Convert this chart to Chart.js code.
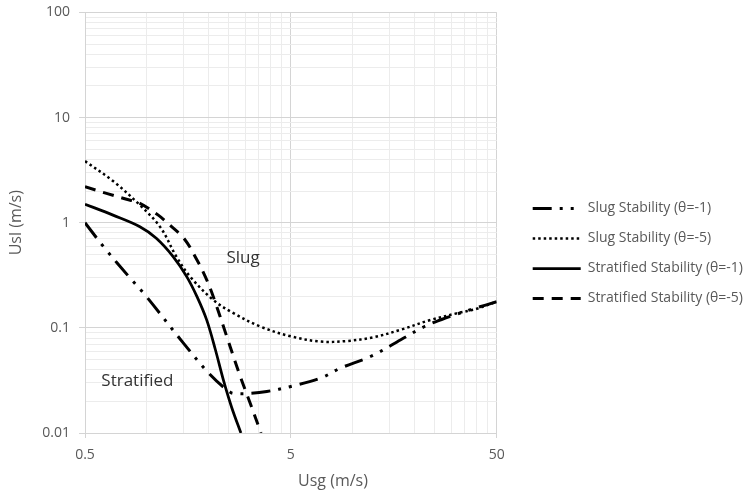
<!DOCTYPE html>
<html>
<head>
<meta charset="utf-8">
<script src="https://cdn.jsdelivr.net/npm/chart.js"></script>
<style>
html,body{margin:0;padding:0;background:#fff;}
#wrap{width:746px;height:493px;position:relative;}
</style>
</head>
<body>
<div id="wrap"><canvas id="chart"></canvas></div>
<script>
// series (Usg, Usl in m/s)
const slug1Usg = [0.5, 0.62, 0.83, 0.98, 1.5, 2.03, 2.54, 2.74, 3.2, 3.82, 5, 7, 8.7, 12.2, 17.1, 22.3, 27, 32.3, 39, 50];
const slug1Usl = [1.0, 0.58, 0.296, 0.205, 0.072, 0.0358, 0.0244, 0.0237, 0.0238, 0.0248, 0.0277, 0.0334, 0.0414, 0.0534, 0.077, 0.103, 0.12, 0.136, 0.153, 0.177];

const slug5Usg = [0.5, 0.684, 0.924, 1.157, 1.39, 1.62, 2.1, 2.63, 3.55, 5, 7, 9.4, 12.6, 17.1, 23.9, 32.3, 40, 50];
const slug5Usl = [3.85, 2.49, 1.47, 0.916, 0.476, 0.307, 0.184, 0.138, 0.103, 0.083, 0.074, 0.075, 0.0814, 0.096, 0.119, 0.138, 0.152, 0.178];

const strat1Usg = [0.5, 0.684, 0.924, 1.11, 1.34, 1.56, 1.75, 1.95, 2.15, 2.35, 2.58, 2.86];
const strat1Usl = [1.5, 1.18, 0.916, 0.711, 0.476, 0.307, 0.198, 0.119, 0.0619, 0.032, 0.0175, 0.01];

const strat5Usg = [0.5, 0.636, 0.796, 0.924, 1.135, 1.29, 1.52, 1.75, 1.92, 2.1, 2.44, 2.84, 3.17, 3.58];
const strat5Usl = [2.2, 1.9, 1.67, 1.53, 1.18, 0.95, 0.70, 0.442, 0.307, 0.198, 0.083, 0.0344, 0.0193, 0.01];

const seriesNames = ["Slug Stability (θ=-1)", "Slug Stability (θ=-5)", "Stratified Stability (θ=-1)", "Stratified Stability (θ=-5)"];

const xTickValues = [0.5, 5, 50];
const xTickLabels = ["0.5", "5", "50"];
const yTickValues = [0.01, 0.1, 1, 10, 100];
const yTickLabels = ["0.01", "0.1", "1", "10", "100"];

const regionNames = ["Slug", "Stratified"];
const regionUsg = [2.93, 0.898];
const regionUsl = [0.462, 0.0309];

function pts(xs, ys){
  return xs.map((x, i) => ({x: x, y: ys[i]}));
}

// major values plus the 2..9 multiples between them, for the gridlines
function withMinors(majors){
  const out = [];
  majors.forEach((m, i) => {
    if (i === majors.length - 1) { out.push(m); return; }
    for (let k = 1; k <= 9; k++) out.push(+(m * k).toPrecision(6));
  });
  return out;
}
const xGrid = withMinors(xTickValues);
const yGrid = withMinors(yTickValues);

function labelFor(values, labels, v){
  for (let i = 0; i < values.length; i++) {
    if (Math.abs(values[i] - v) < values[i] * 1e-6) return labels[i];
  }
  return "";
}
function isMajor(values, v){
  return labelFor(values, values.map(() => "x"), v) !== "";
}

const MAJOR = "#d4d4d4";
const MINOR = "#ececec";
const GREY = "#595959";

const regionText = {
  id: "regionText",
  afterDatasetsDraw(chart){
    const ctx = chart.ctx;
    const xs = chart.scales.x, ys = chart.scales.y;
    ctx.save();
    ctx.font = "17px 'Open Sans'";
    ctx.fillStyle = "#333333";
    ctx.textAlign = "center";
    ctx.textBaseline = "middle";
    regionNames.forEach((name, i) => {
      ctx.fillText(name, xs.getPixelForValue(regionUsg[i]), ys.getPixelForValue(regionUsl[i]));
    });
    // x axis title sits right of the plot centre in the original
    ctx.font = "16px 'Open Sans'";
    ctx.fillStyle = GREY;
    ctx.fillText("Usg (m/s)", 333, xs.top + 48);
    ctx.restore();
  }
};

new Chart(document.getElementById("chart"), {
  type: "line",
  data: {
    datasets: [
      {label: seriesNames[0], data: pts(slug1Usg, slug1Usl), borderColor: "#000", borderWidth: 3, borderDash: [19, 8, 3, 8, 3, 8]},
      {label: seriesNames[1], data: pts(slug5Usg, slug5Usl), borderColor: "#000", borderWidth: 2.5, borderDash: [2.5, 3]},
      {label: seriesNames[2], data: pts(strat1Usg, strat1Usl), borderColor: "#000", borderWidth: 2.75},
      {label: seriesNames[3], data: pts(strat5Usg, strat5Usl), borderColor: "#000", borderWidth: 3, borderDash: [11, 8]}
    ]
  },
  options: {
    responsive: true,
    maintainAspectRatio: false,
    devicePixelRatio: 1,
    animation: false,
    layout: {padding: {top: 0, bottom: -14, left: 0, right: -7}},
    elements: {
      point: {radius: 0},
      line: {tension: 0.35, fill: false, borderCapStyle: "butt"}
    },
    plugins: {
      tooltip: {enabled: false},
      legend: {
        position: "right",
        align: "center",
        maxWidth: 320,
        labels: {
          usePointStyle: true,
          pointStyle: "line",
          pointStyleWidth: 48,
          padding: 16,
          color: GREY,
          font: {family: "'Open Sans'", size: 14},
          // carry each dataset's dash pattern into its legend line
          generateLabels(chart){
            const items = Chart.defaults.plugins.legend.labels.generateLabels(chart);
            items.forEach(it => {
              const ds = chart.data.datasets[it.datasetIndex];
              it.lineDash = ds.borderDash || [];
              it.lineWidth = ds.borderWidth;
              it.strokeStyle = ds.borderColor;
            });
            return items;
          }
        }
      }
    },
    scales: {
      x: {
        type: "logarithmic",
        min: 0.5,
        max: 50,
        afterBuildTicks(s){ s.ticks = xGrid.map(v => ({value: v})); },
        afterFit(s){ s.height = 74; },
        ticks: {
          autoSkip: false,
          maxRotation: 0,
          padding: 9,
          color: GREY,
          font: {family: "'Open Sans'", size: 14},
          callback: v => labelFor(xTickValues, xTickLabels, v)
        },
        grid: {
          color: c => isMajor(xTickValues, c.tick.value) ? MAJOR : MINOR,
          tickColor: c => isMajor(xTickValues, c.tick.value) ? MAJOR : "rgba(0,0,0,0)",
          tickLength: 5
        },
        border: {color: MAJOR}
      },
      y: {
        type: "logarithmic",
        min: 0.01,
        max: 100,
        afterBuildTicks(s){ s.ticks = yGrid.map(v => ({value: v})); },
        afterFit(s){ s.width = 85; s.paddingTop = 12.4; },
        ticks: {
          autoSkip: false,
          padding: 9,
          color: GREY,
          font: {family: "'Open Sans'", size: 14},
          callback: v => labelFor(yTickValues, yTickLabels, v)
        },
        grid: {
          color: c => isMajor(yTickValues, c.tick.value) ? MAJOR : MINOR,
          tickColor: c => isMajor(yTickValues, c.tick.value) ? MAJOR : "rgba(0,0,0,0)",
          tickLength: 6
        },
        border: {color: MAJOR},
        title: {
          display: true,
          text: "Usl (m/s)",
          color: GREY,
          font: {family: "'Open Sans'", size: 16},
          padding: {top: 7, bottom: 0}
        }
      },
      // empty spacer between the plot and the legend
      gap: {
        type: "linear",
        position: "right",
        grid: {display: false},
        ticks: {display: false},
        border: {display: false},
        afterFit(s){ s.width = 20; }
      }
    }
  },
  plugins: [regionText]
});
</script>
</body>
</html>
